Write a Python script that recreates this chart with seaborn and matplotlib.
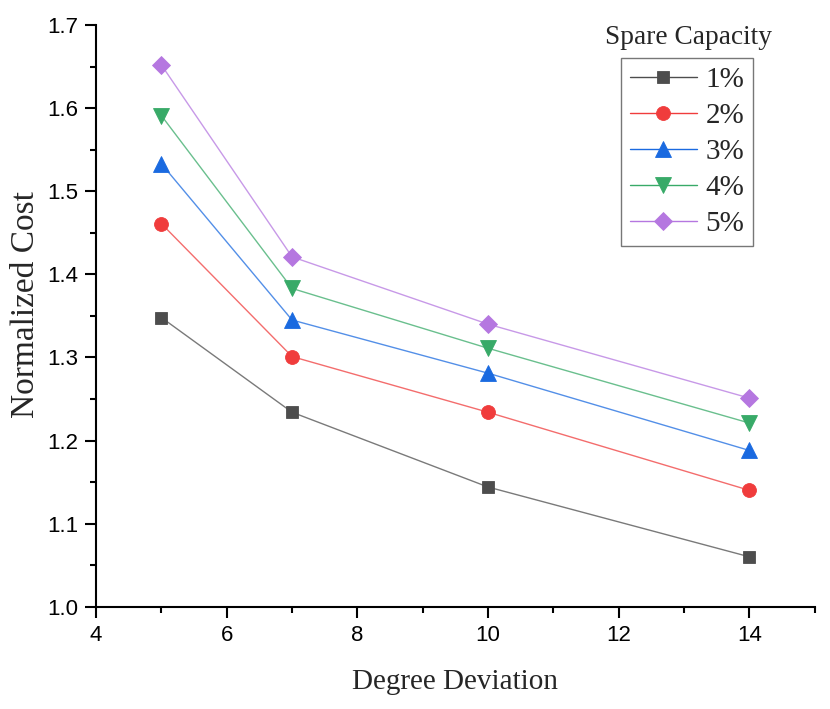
import matplotlib
matplotlib.use("Agg")
import matplotlib.pyplot as plt
import seaborn as sns
import pandas as pd
from matplotlib.ticker import MultipleLocator, FormatStrFormatter

degree = [5, 7, 10, 14]
capacities = ["1%", "2%", "3%", "4%", "5%"]
cost_1 = [1.348, 1.234, 1.144, 1.060]
cost_2 = [1.461, 1.301, 1.234, 1.140]
cost_3 = [1.533, 1.345, 1.281, 1.188]
cost_4 = [1.591, 1.383, 1.311, 1.221]
cost_5 = [1.652, 1.421, 1.340, 1.251]
series = [cost_1, cost_2, cost_3, cost_4, cost_5]

colors = ["#4d4d4d", "#f03c3c", "#1a6ae0", "#38aa68", "#b577e0"]
markers = ["s", "o", "^", "v", "D"]
sizes = [9, 10, 11, 11, 9]

rows = []
for cap, vals in zip(capacities, series):
    for d, v in zip(degree, vals):
        rows.append({"Degree Deviation": d, "Normalized Cost": v, "cap": cap})
df = pd.DataFrame(rows)

sns.set_style("ticks")
fig = plt.figure(figsize=(8.3, 7.09), dpi=100)
ax = fig.add_axes([0.1157, 0.1443, 0.866, 0.8204])

for cap, col, mk, ms in zip(capacities, colors, markers, sizes):
    sub = df[df["cap"] == cap]
    sns.lineplot(data=sub, x="Degree Deviation", y="Normalized Cost", ax=ax,
                 color=col, linewidth=1.0, alpha=0.75, legend=False)
    sns.lineplot(data=sub, x="Degree Deviation", y="Normalized Cost", ax=ax,
                 color=col, marker=mk, markersize=ms, markeredgewidth=0.6,
                 markeredgecolor=col, linestyle="none", legend=False)

ax.set_xlim(4, 15)
ax.set_ylim(1.0, 1.7)
ax.xaxis.set_major_locator(MultipleLocator(2))
ax.xaxis.set_minor_locator(MultipleLocator(1))
ax.yaxis.set_major_locator(MultipleLocator(0.1))
ax.yaxis.set_minor_locator(MultipleLocator(0.05))
ax.yaxis.set_major_formatter(FormatStrFormatter("%.1f"))

for s in ["top", "right"]:
    ax.spines[s].set_visible(False)
for s in ["left", "bottom"]:
    ax.spines[s].set_linewidth(1.5)
    ax.spines[s].set_color("black")

ax.tick_params(which="major", direction="out", length=8, width=1.5,
               labelsize=16, pad=5, colors="black")
ax.tick_params(which="minor", direction="out", length=4, width=1.5, colors="black")
for lab in ax.get_xticklabels() + ax.get_yticklabels():
    lab.set_fontfamily("Liberation Sans")

ax.set_xlabel("Degree Deviation", fontfamily="Liberation Serif", fontsize=21, labelpad=17)
ax.set_ylabel("Normalized Cost", fontfamily="Liberation Serif", fontsize=24)
ax.yaxis.set_label_coords(-0.077, 0.519)

handles = []
for col, mk, ms in zip(colors, markers, sizes):
    h, = ax.plot([], [], color=col, marker=mk, markersize=ms, linewidth=1.0,
                 markeredgecolor=col, markeredgewidth=0.6)
    handles.append(h)
leg = ax.legend(handles, capacities, loc="upper left",
                bbox_to_anchor=(621 / 830, 1 - 57.7 / 709), bbox_transform=fig.transFigure,
                frameon=True, fancybox=False, framealpha=1, edgecolor="#777777",
                prop={"family": "Liberation Serif", "size": 21},
                handlelength=2.3, labelspacing=0.33, borderpad=0.3,
                handletextpad=0.3, borderaxespad=0)
leg.get_frame().set_linewidth(1.0)
for h in leg.legend_handles:
    h.set_alpha(1.0)

fig.text(688 / 830, 1 - 37 / 709, "Spare Capacity", ha="center", va="center",
         fontfamily="Liberation Serif", fontsize=19.7)

fig.savefig("out.png", dpi=100)
